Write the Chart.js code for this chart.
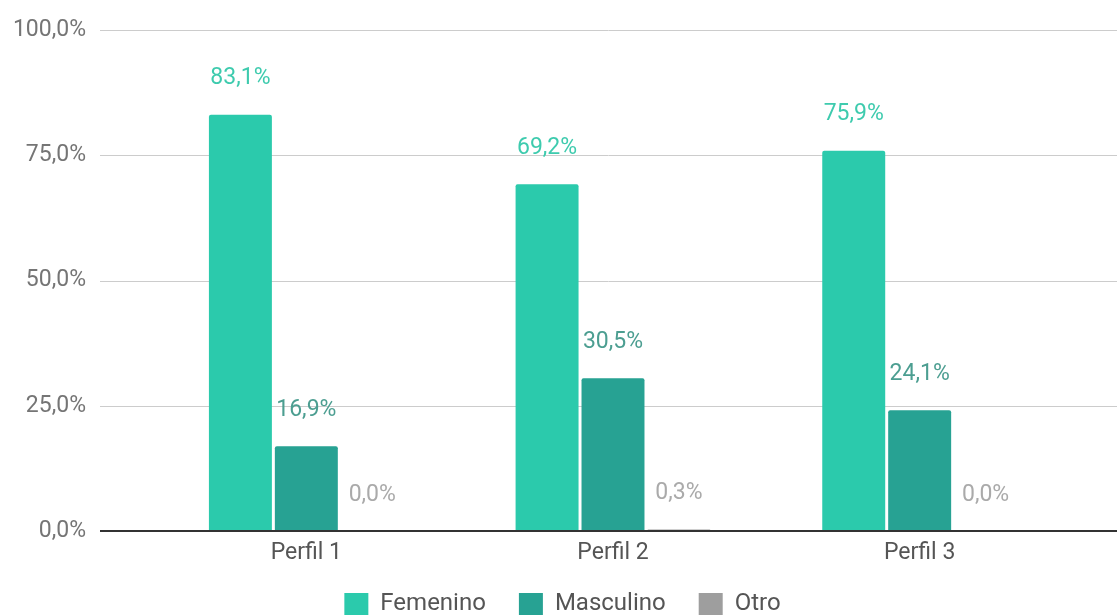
<!DOCTYPE html>
<html>
<head>
<meta charset="utf-8">
<script src="https://cdn.jsdelivr.net/npm/chart.js@4.4.0/dist/chart.umd.min.js"></script>
<style>
  html, body { margin: 0; padding: 0; background: #ffffff; }
  #wrap { width: 1117px; height: 616px; }
</style>
</head>
<body>
<div id="wrap"><canvas id="c" width="1117" height="616"></canvas></div>
<script>
const categories = ['Perfil 1', 'Perfil 2', 'Perfil 3'];
const seriesNames = ['Femenino', 'Masculino', 'Otro'];
const femenino = [83.1, 69.2, 75.9];
const masculino = [16.9, 30.5, 24.1];
const otro = [0.0, 0.3, 0.0];
const yTickValues = [0, 25, 50, 75, 100];

const barColors = ['#2BCAAC', '#27A293', '#9E9E9E'];
const labelColors = ['#3ECBAE', '#4C9E91', '#AAAAAA'];
const FONT = 'Roboto';
const FS = 23;

function fmt(v) { return v.toFixed(1).replace('.', ',') + '%'; }

const gridPlugin = {
  id: 'fullGrid',
  beforeLayout(chart) {
    const lg = chart.legend;
    if (lg && !lg._patched) {
      const f = lg.fit;
      lg.fit = function () { f.call(this); if (this.height > 10) this.height -= 10; };
      lg._patched = true;
    }
  },
  beforeDatasetsDraw(chart) {
    const ctx = chart.ctx, y = chart.scales.y;
    ctx.save();
    yTickValues.forEach(v => {
      if (v === 0) return;
      const py = Math.round(y.getPixelForValue(v)) + 0.5;
      ctx.strokeStyle = '#CCCCCC';
      ctx.lineWidth = 1;
      ctx.beginPath();
      ctx.moveTo(100, py);
      ctx.lineTo(chart.width, py);
      ctx.stroke();
    });
    ctx.restore();
  },
  afterDatasetsDraw(chart) {
    const ctx = chart.ctx, y = chart.scales.y;
    ctx.save();
    const py = y.getPixelForValue(0);
    ctx.strokeStyle = '#333333';
    ctx.lineWidth = 2;
    ctx.beginPath();
    ctx.moveTo(100, py);
    ctx.lineTo(chart.width, py);
    ctx.stroke();
    ctx.font = FS + 'px ' + FONT;
    ctx.textAlign = 'center';
    ctx.textBaseline = 'middle';
    chart.data.datasets.forEach((ds, i) => {
      const meta = chart.getDatasetMeta(i);
      meta.data.forEach((bar, j) => {
        ctx.fillStyle = labelColors[i];
        ctx.fillText(fmt(ds.data[j]), bar.x, bar.y - 36);
      });
    });
    ctx.restore();
  }
};

new Chart(document.getElementById('c'), {
  type: 'bar',
  data: {
    labels: categories,
    datasets: [
      { label: seriesNames[0], data: femenino, backgroundColor: barColors[0] },
      { label: seriesNames[1], data: masculino, backgroundColor: barColors[1] },
      { label: seriesNames[2], data: otro, backgroundColor: barColors[2] }
    ]
  },
  options: {
    responsive: false,
    animation: false,
    devicePixelRatio: 1,
    layout: { padding: { top: 30, right: 0, bottom: 0, left: 8 } },
    datasets: {
      bar: { categoryPercentage: 0.645, barPercentage: 0.955, borderRadius: 2, borderSkipped: 'bottom' }
    },
    scales: {
      y: {
        min: 0, max: 100,
        afterFit(scale) {
          scale.width = 145;
          scale.paddingTop = 10;
          scale.paddingBottom = 10;
        },
        afterBuildTicks(scale) { scale.ticks = yTickValues.map(v => ({ value: v })); },
        grid: { display: false, drawTicks: false },
        border: { display: false },
        ticks: {
          padding: 67,
          color: '#757575',
          font: { family: FONT, size: FS },
          callback: v => fmt(v)
        }
      },
      yRight: {
        type: 'linear',
        position: 'right',
        display: true,
        afterFit(scale) { scale.width = 44; scale.paddingTop = 0; scale.paddingBottom = 0; },
        grid: { display: false, drawTicks: false },
        border: { display: false },
        ticks: { display: false }
      },
      x: {
        afterFit(scale) { scale.height = 28; },
        grid: { display: false, drawTicks: false },
        border: { display: false },
        ticks: {
          padding: 8,
          color: '#555555',
          font: { family: FONT, size: FS }
        }
      }
    },
    plugins: {
      legend: {
        position: 'bottom',
        labels: {
          boxWidth: 24, boxHeight: 22,
          padding: 33,
          color: '#555555',
          font: { family: FONT, size: 24 }
        }
      },
      tooltip: { enabled: false }
    }
  },
  plugins: [gridPlugin]
});
</script>
</body>
</html>
